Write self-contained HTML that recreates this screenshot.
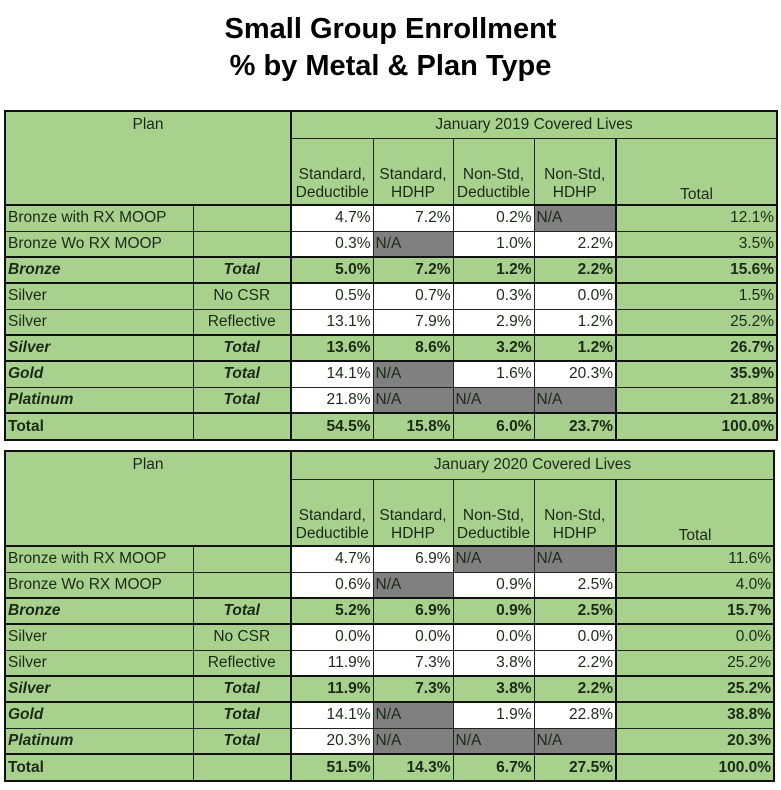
<!DOCTYPE html>
<html><head><meta charset="utf-8"><style>
body{margin:0;width:781px;height:790px;background:#fff;position:relative;font-family:"Liberation Sans",sans-serif;overflow:hidden}
.title{position:absolute;left:0;width:781px;text-align:center;font-weight:bold;font-size:29px;color:#000;line-height:37px}
table{position:absolute;left:4px;border-collapse:collapse;table-layout:fixed;width:772px;border:2px solid #111;color:#1b2a17;font-size:15.5px}
td{border:1px solid #222;background:#a9d18e;padding:0 2px;white-space:nowrap;overflow:hidden;line-height:18px}
td.w{background:#fff;text-align:right}
td.g{background:#808080;text-align:left}
td.r{text-align:right}
td.c{text-align:center}
tr.b td{font-weight:bold}
tr.b td.l{font-style:italic}
tr.b td.t{font-style:italic;text-align:center}
.tk{border-left:2px solid #111}
tr.top td{border-top:2px solid #111}
.h1 td{vertical-align:top;text-align:center}
.h2 td{vertical-align:bottom;text-align:center;padding-bottom:2px}
</style></head><body>
<div class="title" style="top:11px">Small Group Enrollment</div>
<div class="title" style="top:48px">% by Metal &amp; Plan Type</div>

<table style="top:110px">
<colgroup><col style="width:188px"><col style="width:98px"><col style="width:82px"><col style="width:80px"><col style="width:81px"><col style="width:82px"><col style="width:161px"></colgroup>
<tr class="h1" style="height:27px"><td colspan="2" rowspan="2" style="padding-top:4px">Plan</td><td colspan="5" class="tk" style="padding-top:4px">January 2019 Covered Lives</td></tr>
<tr class="h2" style="height:67px"><td class="tk">Standard,<br>Deductible</td><td>Standard,<br>HDHP</td><td>Non-Std,<br>Deductible</td><td>Non-Std,<br>HDHP</td><td class="tk" style="padding-bottom:0">Total</td></tr>
<tr style="height:26px" class="top"><td>Bronze with RX MOOP</td><td></td><td class="w tk">4.7%</td><td class="w">7.2%</td><td class="w">0.2%</td><td class="g">N/A</td><td class="r tk">12.1%</td></tr>
<tr style="height:26px"><td>Bronze Wo RX MOOP</td><td></td><td class="w tk">0.3%</td><td class="g">N/A</td><td class="w">1.0%</td><td class="w">2.2%</td><td class="r tk">3.5%</td></tr>
<tr style="height:26px" class="b top"><td class="l">Bronze</td><td class="t">Total</td><td class="r tk">5.0%</td><td class="r">7.2%</td><td class="r">1.2%</td><td class="r">2.2%</td><td class="r tk">15.6%</td></tr>
<tr style="height:26px" class="top"><td>Silver</td><td class="c">No CSR</td><td class="w tk">0.5%</td><td class="w">0.7%</td><td class="w">0.3%</td><td class="w">0.0%</td><td class="r tk">1.5%</td></tr>
<tr style="height:26px"><td>Silver</td><td class="c">Reflective</td><td class="w tk">13.1%</td><td class="w">7.9%</td><td class="w">2.9%</td><td class="w">1.2%</td><td class="r tk">25.2%</td></tr>
<tr style="height:26px" class="b top"><td class="l">Silver</td><td class="t">Total</td><td class="r tk">13.6%</td><td class="r">8.6%</td><td class="r">3.2%</td><td class="r">1.2%</td><td class="r tk">26.7%</td></tr>
<tr style="height:26px" class="b top"><td class="l">Gold</td><td class="t">Total</td><td class="w tk" style="font-weight:normal">14.1%</td><td class="g" style="font-weight:normal">N/A</td><td class="w" style="font-weight:normal">1.6%</td><td class="w" style="font-weight:normal">20.3%</td><td class="r tk">35.9%</td></tr>
<tr style="height:26px" class="b"><td class="l">Platinum</td><td class="t">Total</td><td class="w tk" style="font-weight:normal">21.8%</td><td class="g" style="font-weight:normal">N/A</td><td class="g" style="font-weight:normal">N/A</td><td class="g" style="font-weight:normal">N/A</td><td class="r tk">21.8%</td></tr>
<tr style="height:27px" class="b top"><td>Total</td><td></td><td class="r tk">54.5%</td><td class="r">15.8%</td><td class="r">6.0%</td><td class="r">23.7%</td><td class="r tk">100.0%</td></tr>
</table>

<table style="top:450px;width:769px">
<colgroup><col style="width:188px"><col style="width:98px"><col style="width:82px"><col style="width:80px"><col style="width:81px"><col style="width:82px"><col style="width:158px"></colgroup>
<tr class="h1" style="height:28px"><td colspan="2" rowspan="2" style="padding-top:4px">Plan</td><td colspan="5" class="tk" style="padding-top:4px">January 2020 Covered Lives</td></tr>
<tr class="h2" style="height:67px"><td class="tk">Standard,<br>Deductible</td><td>Standard,<br>HDHP</td><td>Non-Std,<br>Deductible</td><td>Non-Std,<br>HDHP</td><td class="tk" style="padding-bottom:0">Total</td></tr>
<tr style="height:26px" class="top"><td>Bronze with RX MOOP</td><td></td><td class="w tk">4.7%</td><td class="w">6.9%</td><td class="g">N/A</td><td class="g">N/A</td><td class="r tk">11.6%</td></tr>
<tr style="height:26px"><td>Bronze Wo RX MOOP</td><td></td><td class="w tk">0.6%</td><td class="g">N/A</td><td class="w">0.9%</td><td class="w">2.5%</td><td class="r tk">4.0%</td></tr>
<tr style="height:26px" class="b top"><td class="l">Bronze</td><td class="t">Total</td><td class="r tk">5.2%</td><td class="r">6.9%</td><td class="r">0.9%</td><td class="r">2.5%</td><td class="r tk">15.7%</td></tr>
<tr style="height:26px" class="top"><td>Silver</td><td class="c">No CSR</td><td class="w tk">0.0%</td><td class="w">0.0%</td><td class="w">0.0%</td><td class="w">0.0%</td><td class="r tk">0.0%</td></tr>
<tr style="height:26px"><td>Silver</td><td class="c">Reflective</td><td class="w tk">11.9%</td><td class="w">7.3%</td><td class="w">3.8%</td><td class="w">2.2%</td><td class="r tk">25.2%</td></tr>
<tr style="height:26px" class="b top"><td class="l">Silver</td><td class="t">Total</td><td class="r tk">11.9%</td><td class="r">7.3%</td><td class="r">3.8%</td><td class="r">2.2%</td><td class="r tk">25.2%</td></tr>
<tr style="height:26px" class="b top"><td class="l">Gold</td><td class="t">Total</td><td class="w tk" style="font-weight:normal">14.1%</td><td class="g" style="font-weight:normal">N/A</td><td class="w" style="font-weight:normal">1.9%</td><td class="w" style="font-weight:normal">22.8%</td><td class="r tk">38.8%</td></tr>
<tr style="height:26px" class="b"><td class="l">Platinum</td><td class="t">Total</td><td class="w tk" style="font-weight:normal">20.3%</td><td class="g" style="font-weight:normal">N/A</td><td class="g" style="font-weight:normal">N/A</td><td class="g" style="font-weight:normal">N/A</td><td class="r tk">20.3%</td></tr>
<tr style="height:27px" class="b top"><td>Total</td><td></td><td class="r tk">51.5%</td><td class="r">14.3%</td><td class="r">6.7%</td><td class="r">27.5%</td><td class="r tk">100.0%</td></tr>
</table>
</body></html>
